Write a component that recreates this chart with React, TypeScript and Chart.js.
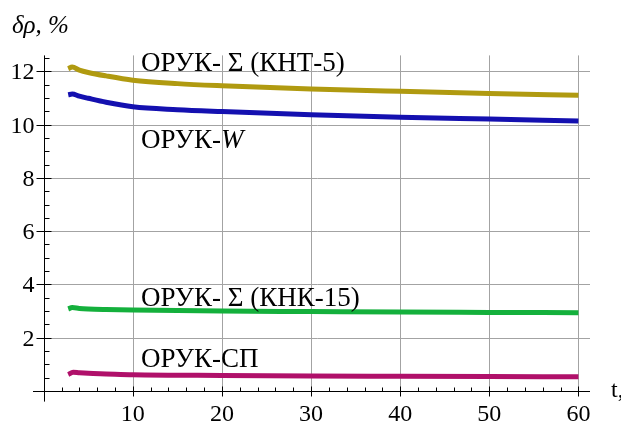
import React, { useEffect, useRef } from "react";
import { Chart, registerables } from "chart.js";

Chart.register(...registerables);

// ---- data ----
const tKNT5 = [2.75, 3.2, 4, 5, 7, 10, 15, 20, 30, 40, 50, 60];
const vKNT5 = [12.1, 12.16, 12.05, 11.96, 11.83, 11.67, 11.54, 11.46, 11.34, 11.25, 11.17, 11.1];

const tW = [2.75, 3.2, 4, 5, 7, 10, 15, 20, 30, 40, 50, 60];
const vW = [11.12, 11.15, 11.07, 10.99, 10.84, 10.67, 10.56, 10.49, 10.37, 10.28, 10.21, 10.14];

const tKNK15 = [2.75, 3.2, 4, 5, 7, 10, 20, 30, 40, 50, 60];
const vKNK15 = [3.08, 3.13, 3.1, 3.08, 3.06, 3.04, 3.0, 2.98, 2.96, 2.95, 2.94];

const tSP = [2.75, 3.3, 4, 5, 7, 10, 20, 30, 40, 50, 60];
const vSP = [0.62, 0.7, 0.68, 0.66, 0.64, 0.61, 0.58, 0.56, 0.55, 0.54, 0.53];

const xTicks = [10, 20, 30, 40, 50, 60];
const yTicks = [2, 4, 6, 8, 10, 12];
const xMinor = [2, 4, 6, 8, 12, 14, 16, 18, 22, 24, 26, 28, 32, 34, 36, 38, 42, 44, 46, 48, 52, 54, 56, 58];
const yMinor = [0.5, 1, 1.5, 2.5, 3, 3.5, 4.5, 5, 5.5, 6.5, 7, 7.5, 8.5, 9, 9.5, 10.5, 11, 11.5, 12.5];

const X_MIN = -1.2, X_MAX = 61.3, Y_MIN = -0.4, Y_MAX = 12.6;

const pts = (t: number[], v: number[]) => t.map((x, i) => ({ x, y: v[i] }));

const axesPlugin = {
  id: "mmaAxes",
  beforeDatasetsDraw(chart: any) {
    const { ctx, chartArea } = chart;
    const xs = chart.scales.x, ys = chart.scales.y;
    const r = (v: number) => Math.round(v) + 0.5;
    const x0 = r(xs.getPixelForValue(0));
    const y0 = r(ys.getPixelForValue(0));
    ctx.save();
    ctx.strokeStyle = "#a3a3a3";
    ctx.lineWidth = 1;
    ctx.beginPath();
    xTicks.forEach((t) => {
      const px = r(xs.getPixelForValue(t));
      ctx.moveTo(px, y0);
      ctx.lineTo(px, chartArea.top);
    });
    yTicks.forEach((t) => {
      const py = r(ys.getPixelForValue(t));
      ctx.moveTo(x0, py);
      ctx.lineTo(chartArea.right, py);
    });
    ctx.stroke();
    ctx.strokeStyle = "#000";
    ctx.beginPath();
    ctx.moveTo(chartArea.left, y0);
    ctx.lineTo(chartArea.right, y0);
    ctx.moveTo(x0, chartArea.bottom);
    ctx.lineTo(x0, chartArea.top);
    xTicks.forEach((t) => {
      const px = r(xs.getPixelForValue(t));
      ctx.moveTo(px, y0 + 5);
      ctx.lineTo(px, y0 - 5);
    });
    xMinor.forEach((t) => {
      const px = r(xs.getPixelForValue(t));
      ctx.moveTo(px, y0);
      ctx.lineTo(px, y0 - 4);
    });
    yTicks.forEach((t) => {
      const py = r(ys.getPixelForValue(t));
      ctx.moveTo(x0 - 8, py);
      ctx.lineTo(x0 + 7, py);
    });
    yMinor.forEach((t) => {
      const py = r(ys.getPixelForValue(t));
      ctx.moveTo(x0, py);
      ctx.lineTo(x0 + 5, py);
    });
    ctx.stroke();
    ctx.restore();
  },
  afterDraw(chart: any) {
    const ctx = chart.ctx;
    const xs = chart.scales.x, ys = chart.scales.y;
    const x0 = Math.round(xs.getPixelForValue(0)) + 0.5;
    const y0 = Math.round(ys.getPixelForValue(0)) + 0.5;
    ctx.save();
    ctx.fillStyle = "#000";
    ctx.textBaseline = "alphabetic";
    ctx.font = '24px "Liberation Serif"';
    ctx.textAlign = "right";
    yTicks.forEach((t) => {
      ctx.fillText(String(t), x0 - 10, ys.getPixelForValue(t) + 8);
    });
    ctx.textAlign = "center";
    xTicks.forEach((t) => {
      ctx.fillText(String(t), xs.getPixelForValue(t), y0 + 29);
    });
    ctx.textAlign = "left";
    ctx.fillText("t,", 611, 397);
    ctx.font = '27px "Liberation Serif"';
    ctx.fillText("ОРУК- Σ (КНТ-5)", 141, 71);
    ctx.fillText("ОРУК- Σ (КНК-15)", 141, 306);
    ctx.fillText("ОРУК-СП", 141, 367);
    const pre = "ОРУК-";
    ctx.fillText(pre, 141, 148);
    const w = ctx.measureText(pre).width;
    ctx.font = 'italic 27px "Liberation Serif"';
    ctx.fillText("W", 141 + w, 148);
    ctx.font = 'italic 25px "Liberation Serif"';
    ctx.fillText("δρ, %", 12, 33);
    ctx.restore();
  },
};

export default function App() {
  const ref = useRef<HTMLCanvasElement | null>(null);
  useEffect(() => {
    document.body.style.margin = "0";
    const mk = (label: string, data: any[], color: string) => ({
      label,
      data,
      borderColor: color,
      backgroundColor: color,
      borderWidth: 5,
      pointRadius: 0,
      fill: false,
      cubicInterpolationMode: "monotone" as const,
      borderCapStyle: "butt" as const,
    });
    const chart = new Chart(ref.current!, {
      type: "line",
      data: {
        datasets: [
          mk("ОРУК- Σ (КНТ-5)", pts(tKNT5, vKNT5), "#b09a10"),
          mk("ОРУК-W", pts(tW, vW), "#1410b0"),
          mk("ОРУК- Σ (КНК-15)", pts(tKNK15, vKNK15), "#14b03c"),
          mk("ОРУК-СП", pts(tSP, vSP), "#b0106a"),
        ],
      },
      options: {
        animation: false,
        responsive: false,
        devicePixelRatio: 1,
        layout: { padding: { left: 33, right: 31, top: 55.4, bottom: 22.4 } },
        plugins: { legend: { display: false }, tooltip: { enabled: false } },
        scales: {
          x: { type: "linear", min: X_MIN, max: X_MAX, display: false },
          y: { type: "linear", min: Y_MIN, max: Y_MAX, display: false },
        },
      },
      plugins: [axesPlugin],
    });
    return () => chart.destroy();
  }, []);
  return <canvas ref={ref} width={621} height={424} style={{ display: "block" }} />;
}
